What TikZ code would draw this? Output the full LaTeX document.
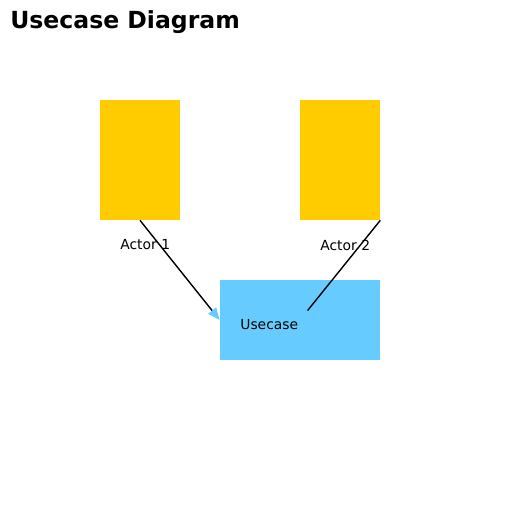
\documentclass[tikz,border=0pt]{standalone}
\usepackage{fontspec}
\setmainfont{DejaVu Sans}
\usepackage{tikz}
\usetikzlibrary{arrows.meta,positioning}
\definecolor{actorgold}{HTML}{FFCC00}
\definecolor{usecaseblue}{HTML}{66CCFF}

\begin{document}
\begin{tikzpicture}[x=0.02cm,y=-0.02cm,on grid,
    actor/.style={fill=actorgold,minimum width=1.6cm,minimum height=2.4cm,inner sep=0pt},
    usecase/.style={fill=usecaseblue,minimum width=3.2cm,minimum height=1.6cm,inner sep=0pt},
    lbl/.style={anchor=west,inner sep=0pt,font=\fontsize{7.9}{9}\selectfont},
    link/.style={line width=0.8pt,-{Triangle[color=usecaseblue,length=0.24cm,width=0.2cm]}}]
    \useasboundingbox (0,0) rectangle (512,512);
    \node[anchor=west,inner sep=0pt,font=\fontsize{13.4}{16}\selectfont\bfseries] (title) at (10,22) {Usecase Diagram};
    \node[actor] (actor1) at (140,160) {};
    \node[actor] (actor2) [right=4cm of actor1] {};
    \node[usecase] (uc) [below right=3.2cm and 3.2cm of actor1] {};
    \node[lbl] (act1lbl) at (120,245) {Actor 1};
    \node[lbl] (act2lbl) at (320,245) {Actor 2};
    \node[lbl] (uclbl) at (240,325) {Usecase};
    \draw[link] (actor1.south) -- (uc.west);
    \draw[link] (actor2.south east) -- (uc.center);
  \end{tikzpicture}
\end{document}
